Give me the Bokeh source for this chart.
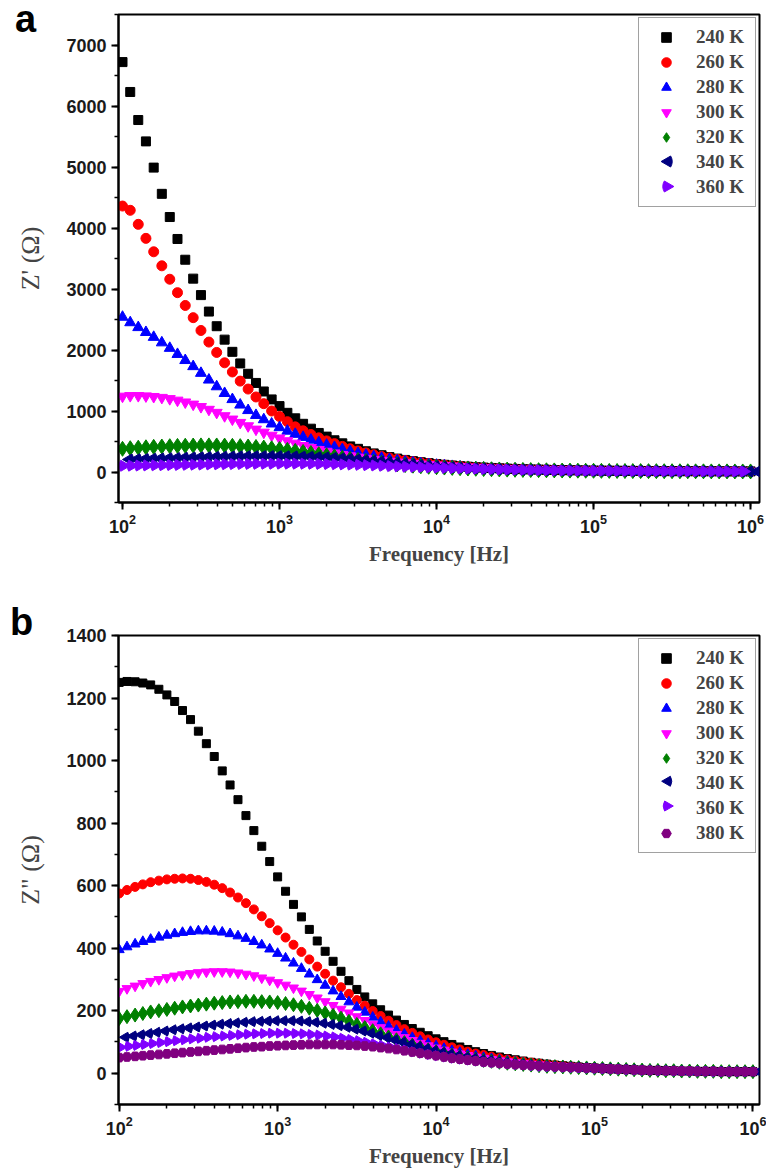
import math
from bokeh.plotting import figure
from bokeh.models import Range1d, SingleIntervalTicker, LogTicker, ColumnDataSource, Div
from bokeh.layouts import column
from bokeh.embed import file_html
from bokeh.resources import INLINE

# ---------------- data ----------------
freq_hz = [100, 112, 126, 141, 158, 178, 200, 224, 251, 282,
           316, 355, 398, 447, 501, 562, 631, 708, 794, 891,
           1000, 1122, 1259, 1413, 1585, 1778, 1995, 2239, 2512, 2818,
           3162, 3548, 3981, 4467, 5012, 5623, 6310, 7079, 7943, 8913,
           10000, 11220, 12589, 14125, 15849, 17783, 19953, 22387, 25119, 28184,
           31623, 35481, 39811, 44668, 50119, 56234, 63096, 70795, 79433, 89125,
           100000, 112202, 125893, 141254, 158489, 177828, 199526, 223872, 251189, 281838,
           316228, 354813, 398107, 446684, 501187, 562341, 630957, 707946, 794328, 891251,
           1000000]

temps_a = ["240 K", "260 K", "280 K", "300 K", "320 K", "340 K", "360 K"]
temps_b = ["240 K", "260 K", "280 K", "300 K", "320 K", "340 K", "360 K", "380 K"]

# Z' (Ohm), panel a
zre_240 = [6720, 6230, 5770, 5420, 4990, 4560, 4180, 3820, 3480, 3170,
           2900, 2630, 2390, 2170, 1970, 1780, 1610, 1460, 1320, 1190,
           1080, 970, 880, 790, 710, 640, 580, 520, 470, 420,
           380, 340, 305, 275, 245, 220, 198, 178, 160, 145,
           130, 118, 106, 96, 87, 79, 72, 66, 60, 55,
           50, 46, 42, 39, 36, 33, 31, 29, 27, 25,
           23, 22, 21, 20, 19, 18, 17, 16, 15, 15,
           14, 14, 13, 13, 12, 12, 11, 11, 10, 10, 10]
zre_260 = [4360, 4290, 4060, 3830, 3610, 3380, 3160, 2940, 2730, 2530,
           2320, 2130, 1960, 1790, 1640, 1490, 1360, 1230, 1120, 1000,
           910, 825, 740, 675, 615, 560, 510, 465, 420, 380,
           345, 312, 282, 255, 230, 207, 187, 168, 152, 138,
           125, 114, 103, 93, 84, 76, 69, 63, 58, 53,
           49, 45, 41, 38, 35, 32, 30, 28, 26, 24,
           22, 21, 20, 19, 18, 17, 16, 15, 14, 14,
           13, 13, 12, 12, 11, 11, 10, 10, 10, 9, 9]
zre_280 = [2540, 2450, 2370, 2290, 2210, 2120, 2030, 1930, 1830, 1730,
           1620, 1510, 1400, 1290, 1190, 1100, 1010, 930, 860, 790,
           730, 672, 620, 570, 525, 483, 443, 405, 370, 337,
           306, 278, 252, 228, 206, 186, 168, 152, 138, 125,
           114, 103, 94, 86, 78, 71, 65, 60, 55, 50,
           46, 42, 39, 36, 33, 31, 29, 27, 25, 23,
           22, 21, 20, 19, 18, 17, 16, 15, 14, 14,
           13, 13, 12, 12, 11, 11, 10, 10, 9, 9, 9]
zre_300 = [1240, 1250, 1250, 1245, 1235, 1220, 1200, 1175, 1145, 1110,
           1070, 1025, 975, 920, 865, 810, 755, 700, 650, 600,
           555, 510, 470, 432, 398, 366, 337, 310, 285, 262,
           241, 222, 204, 188, 173, 160, 148, 137, 127, 118,
           110, 102, 94, 86, 79, 72, 66, 61, 56, 51,
           47, 43, 40, 37, 34, 32, 30, 28, 26, 24,
           22, 21, 20, 19, 18, 17, 16, 15, 14, 14,
           13, 13, 12, 12, 11, 11, 10, 10, 9, 9, 9]
zre_320 = [380, 390, 398, 405, 412, 418, 423, 428, 431, 434,
           436, 436, 435, 433, 429, 424, 418, 410, 400, 389,
           376, 362, 346, 329, 311, 292, 273, 254, 235, 216,
           198, 181, 165, 150, 137, 124, 113, 103, 94, 86,
           79, 73, 67, 62, 57, 53, 49, 45, 42, 39,
           36, 34, 32, 30, 28, 26, 24, 23, 22, 21,
           20, 19, 18, 17, 16, 15, 15, 14, 14, 13,
           13, 12, 12, 11, 11, 10, 10, 10, 9, 9, 9]
zre_340 = [205, 210, 214, 218, 222, 226, 230, 234, 238, 242,
           245, 248, 251, 254, 256, 258, 259, 260, 260, 259,
           258, 256, 253, 249, 244, 238, 231, 223, 214, 204,
           193, 182, 170, 158, 146, 134, 123, 112, 102, 93,
           85, 78, 71, 65, 60, 55, 50, 46, 43, 40,
           37, 34, 32, 30, 28, 26, 24, 23, 22, 21,
           20, 19, 18, 17, 16, 15, 15, 14, 14, 13,
           13, 12, 12, 11, 11, 10, 10, 10, 9, 9, 9]
zre_360 = [100, 102, 104, 106, 108, 110, 112, 114, 116, 118,
           120, 122, 124, 126, 128, 130, 132, 133, 134, 135,
           136, 137, 137, 137, 136, 135, 133, 131, 128, 125,
           121, 117, 112, 107, 102, 97, 92, 87, 83, 79,
           75, 71, 67, 63, 59, 55, 52, 48, 45, 42,
           39, 36, 34, 32, 30, 28, 26, 24, 23, 22,
           21, 20, 19, 18, 17, 16, 15, 15, 14, 14,
           13, 13, 12, 12, 11, 11, 10, 10, 9, 9, 9]

# Z'' (Ohm), panel b
zim_240 = [1250, 1253, 1252, 1248, 1242, 1228, 1210, 1189, 1160, 1131,
           1094, 1054, 1013, 967, 922, 875, 824, 776, 726, 677,
           628, 582, 540, 500, 460, 423, 390, 358, 326, 296,
           268, 244, 222, 203, 186, 170, 156, 143, 131, 120,
           110, 101, 92, 84, 76, 69, 63, 57, 52, 47,
           43, 39, 35, 32, 29, 26, 24, 22, 20, 18,
           17, 15, 14, 13, 12, 11, 10, 9, 9, 8,
           8, 7, 7, 6, 6, 6, 5, 5, 5, 5, 5]
zim_260 = [575, 586, 596, 604, 611, 616, 620, 622, 623, 622,
           618, 612, 603, 592, 578, 562, 544, 524, 502, 480,
           457, 434, 411, 388, 364, 341, 318, 296, 275, 254,
           234, 216, 199, 183, 168, 154, 141, 129, 118, 108,
           99, 91, 83, 76, 69, 63, 58, 53, 48, 44,
           40, 37, 34, 31, 28, 26, 24, 22, 20, 18,
           17, 15, 14, 13, 12, 11, 10, 9, 9, 8,
           8, 7, 7, 6, 6, 6, 5, 5, 5, 5, 5]
zim_280 = [395, 404, 413, 421, 428, 435, 441, 446, 450, 453,
           455, 455, 454, 451, 446, 439, 431, 421, 410, 397,
           383, 368, 352, 335, 317, 299, 281, 263, 245, 228,
           211, 195, 179, 164, 150, 137, 125, 114, 104, 95,
           87, 79, 72, 66, 60, 55, 50, 46, 42, 39,
           36, 33, 30, 28, 26, 24, 22, 20, 19, 17,
           16, 15, 14, 13, 12, 11, 10, 9, 9, 8,
           8, 7, 7, 6, 6, 6, 5, 5, 5, 5, 5]
zim_300 = [262, 271, 279, 287, 294, 300, 306, 311, 315, 319,
           322, 324, 325, 325, 324, 321, 317, 312, 305, 298,
           290, 282, 273, 263, 252, 241, 229, 217, 205, 193,
           181, 169, 157, 146, 135, 124, 114, 105, 96, 88,
           81, 74, 68, 62, 57, 52, 48, 44, 40, 37,
           34, 31, 29, 27, 25, 23, 21, 20, 19, 18,
           17, 15, 14, 13, 12, 11, 10, 9, 9, 8,
           8, 7, 7, 6, 6, 6, 5, 5, 5, 5, 5]
zim_320 = [175, 181, 186, 191, 196, 200, 204, 208, 212, 215,
           218, 221, 224, 226, 228, 229, 230, 230, 229, 228,
           226, 223, 219, 214, 208, 201, 193, 185, 176, 166,
           156, 146, 136, 126, 116, 107, 98, 90, 82, 75,
           69, 63, 58, 53, 49, 45, 41, 38, 35, 32,
           30, 28, 26, 24, 22, 21, 20, 19, 18, 17,
           16, 15, 14, 13, 12, 11, 10, 9, 9, 8,
           8, 7, 7, 6, 6, 6, 5, 5, 5, 5, 5]
zim_340 = [115, 119, 123, 127, 131, 135, 139, 142, 145, 148,
           151, 154, 157, 159, 161, 163, 165, 166, 167, 168,
           168, 168, 167, 165, 163, 160, 156, 152, 147, 141,
           135, 128, 121, 114, 106, 99, 92, 85, 78, 72,
           66, 61, 56, 51, 47, 43, 40, 37, 34, 31,
           29, 27, 25, 23, 22, 21, 20, 19, 18, 17,
           16, 15, 14, 13, 12, 11, 10, 9, 9, 8,
           8, 7, 7, 6, 6, 6, 5, 5, 5, 5, 5]
zim_360 = [80, 83, 86, 89, 92, 95, 98, 101, 104, 107,
           110, 112, 115, 117, 119, 121, 123, 125, 126, 127,
           128, 128, 128, 127, 126, 124, 122, 119, 116, 112,
           108, 104, 99, 94, 89, 84, 79, 74, 69, 64,
           60, 56, 52, 48, 45, 42, 39, 36, 34, 32,
           30, 28, 26, 24, 22, 21, 20, 19, 18, 17,
           16, 15, 14, 13, 12, 11, 10, 9, 9, 8,
           8, 7, 7, 6, 6, 6, 5, 5, 5, 5, 5]
zim_380 = [50, 52, 54, 56, 58, 60, 62, 64, 66, 68,
           70, 72, 74, 76, 78, 80, 82, 84, 85, 87,
           88, 89, 90, 91, 92, 92, 92, 92, 91, 90,
           89, 87, 85, 82, 79, 76, 72, 68, 64, 60,
           56, 52, 48, 45, 42, 39, 36, 34, 32, 30,
           28, 26, 25, 24, 22, 21, 20, 19, 18, 17,
           16, 15, 14, 13, 12, 11, 10, 9, 9, 8,
           8, 7, 7, 6, 6, 6, 5, 5, 5, 5, 5]

series_a = [zre_240, zre_260, zre_280, zre_300, zre_320, zre_340, zre_360]
series_b = [zim_240, zim_260, zim_280, zim_300, zim_320, zim_340, zim_360, zim_380]

# ---------------- styles ----------------
colors = ["#000000", "#ff0000", "#0000ff", "#ff00ff", "#008000", "#000080", "#8000ff", "#800080"]
markers = ["square", "circle", "triangle", "inverted_triangle", "diamond", "wedge_left", "wedge_right", "hex"]
sizes = [9, 10, 11, 11, 15, 11, 11, 11]
WEDGE_ANGLES = {"wedge_left": (-30, 30), "wedge_right": (150, 210)}

FIG_W, BORDER_L, BORDER_R = 766, 118, 7
LEG_MARGIN, LEG_PAD, LEG_GLYPH_W, LEG_GLYPH_H, LEG_SPACING, LEG_STANDOFF, LEG_LABEL_W = 3, 7, 40, 24, 1, 10, 52


def make_fig(height, border_top, border_bottom, xr, yr, interval, ylabel):
    p = figure(width=FIG_W, height=height, x_axis_type="log",
               x_range=Range1d(*xr), y_range=Range1d(*yr),
               output_backend="svg", toolbar_location=None,
               min_border_left=BORDER_L, min_border_right=BORDER_R,
               min_border_top=border_top, min_border_bottom=border_bottom)
    p.xgrid.visible = False
    p.ygrid.visible = False
    p.background_fill_color = "white"
    p.border_fill_color = "white"
    p.outline_line_color = "black"
    p.outline_line_width = 2
    p.xaxis.ticker = LogTicker(num_minor_ticks=10)
    p.yaxis.ticker = SingleIntervalTicker(interval=interval, num_minor_ticks=2)
    for ax in (p.xaxis[0], p.yaxis[0]):
        ax.axis_line_width = 2
        ax.major_tick_line_width = 2
        ax.minor_tick_line_width = 1.5
        ax.major_tick_in = 0
        ax.major_tick_out = 7
        ax.minor_tick_in = 0
        ax.minor_tick_out = 4
        ax.major_label_text_font = "Liberation Sans"
        ax.major_label_text_font_style = "bold"
        ax.major_label_text_font_size = "18px"
        ax.major_label_text_color = "#1a1a1a"
    p.xaxis.major_label_standoff = 4
    p.xaxis.axis_label = "Frequency [Hz]"
    p.xaxis.axis_label_text_font = "Liberation Serif"
    p.xaxis.axis_label_text_font_style = "bold"
    p.xaxis.axis_label_text_font_size = "21px"
    p.xaxis.axis_label_standoff = 6
    p.yaxis.axis_label = ylabel
    p.yaxis.axis_label_text_font = "Liberation Serif"
    p.yaxis.axis_label_text_font_style = "normal"
    p.yaxis.axis_label_text_font_size = "26px"
    p.yaxis.axis_label_standoff = 18
    geom = dict(fw=FIG_W - BORDER_L - BORDER_R, fh=height - border_top - border_bottom, xr=xr, yr=yr)
    return p, geom


def frame_px_to_data(geom, px, py):
    """frame pixel (from left, from bottom) -> data coordinates on the log-x / linear-y scales"""
    lx0, lx1 = math.log10(geom["xr"][0]), math.log10(geom["xr"][1])
    x = 10 ** (lx0 + px / geom["fw"] * (lx1 - lx0))
    y = geom["yr"][0] + py / geom["fh"] * (geom["yr"][1] - geom["yr"][0])
    return x, y


def style_legend(p):
    lg = p.legend[0]
    lg.location = "top_right"
    lg.margin = LEG_MARGIN
    lg.padding = LEG_PAD
    lg.spacing = LEG_SPACING
    lg.glyph_height = LEG_GLYPH_H
    lg.glyph_width = LEG_GLYPH_W
    lg.label_standoff = LEG_STANDOFF
    lg.label_width = LEG_LABEL_W
    lg.label_text_font = "Liberation Serif"
    lg.label_text_font_style = "bold"
    lg.label_text_font_size = "19px"
    lg.border_line_color = "#444444"
    lg.border_line_width = 1.5
    # transparent so the side-pointing triangles drawn in the legend rows show through
    lg.background_fill_alpha = 0.0


def add_series(p, geom, series, temps, shrink):
    leg_w = 2 * LEG_PAD + LEG_GLYPH_W + LEG_STANDOFF + LEG_LABEL_W
    glyph_cx = geom["fw"] - LEG_MARGIN - leg_w + LEG_PAD + LEG_GLYPH_W / 2
    for i, vals in enumerate(series):
        src = ColumnDataSource(dict(f=freq_hz, z=vals))
        m = markers[i]
        if m in WEDGE_ANGLES:
            a0, a1 = WEDGE_ANGLES[m]
            r = sizes[i] - shrink
            p.wedge("f", "z", source=src, radius=r, radius_units="screen",
                    start_angle=a0, end_angle=a1,
                    start_angle_units="deg", end_angle_units="deg",
                    fill_color=colors[i], line_color=colors[i])
            # invisible legend entry; the triangle is drawn in the legend row
            p.scatter([], [], marker="square", size=1, fill_alpha=0, line_alpha=0,
                      legend_label=temps[i])
            row_py = geom["fh"] - (LEG_MARGIN + LEG_PAD + i * (LEG_GLYPH_H + LEG_SPACING) + LEG_GLYPH_H / 2)
            tip = -0.58 * r if m == "wedge_left" else 0.58 * r
            lx, ly = frame_px_to_data(geom, glyph_cx + tip, row_py)
            p.wedge([lx], [ly], radius=r, radius_units="screen",
                    start_angle=a0, end_angle=a1,
                    start_angle_units="deg", end_angle_units="deg",
                    fill_color=colors[i], line_color=colors[i])
        else:
            p.scatter("f", "z", source=src, marker=m, size=sizes[i] - shrink,
                      fill_color=colors[i], line_color=colors[i], legend_label=temps[i])


pa, ga = make_fig(580, 14, 78, (94.3, 1.14e6), (-500, 7500), 1000, "Z' (Ω)")
add_series(pa, ga, series_a, temps_a, 0)
style_legend(pa)

pb, gb = make_fig(590, 55, 62, (99, 1.1e6), (-100, 1400), 200, 'Z" (Ω)')
add_series(pb, gb, series_b, temps_b, 1)
style_legend(pb)

letter_html = ('<span style="font-family: \'Liberation Sans\', Arial, sans-serif; '
               'font-weight: bold; font-size: 38px; line-height: 26px;">{}</span>')
div_a = Div(text=letter_html.format("a"), width=30, height=26,
            styles={"position": "absolute", "left": "10px", "top": "1px", "z-index": "10"})
div_b = Div(text=letter_html.format("b"), width=30, height=26,
            styles={"position": "absolute", "left": "5px", "top": "604px", "z-index": "10"})

layout = column(pa, pb, div_a, div_b, spacing=0)
open("out.html", "w").write(file_html(layout, INLINE))
